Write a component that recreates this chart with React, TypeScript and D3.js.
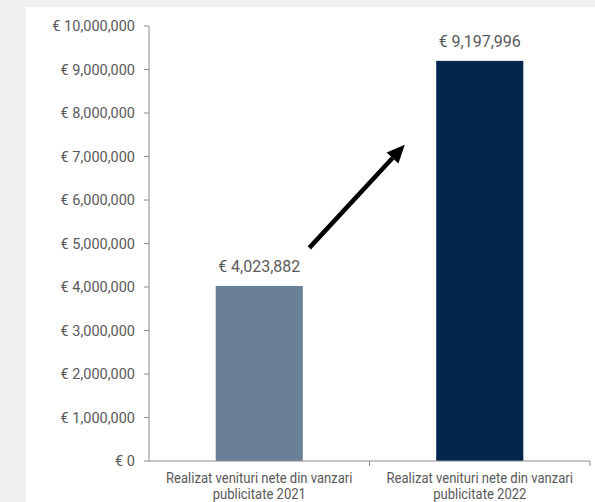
import React from 'react';
import * as d3 from 'd3';

const categories = [
  ['Realizat venituri nete din vanzari', 'publicitate 2021'],
  ['Realizat venituri nete din vanzari', 'publicitate 2022'],
];
const values = [4023882, 9197996];
const barColors = ['#6a8099', '#03264d'];
const yTicks = [0, 1e6, 2e6, 3e6, 4e6, 5e6, 6e6, 7e6, 8e6, 9e6, 1e7];
// arrow annotation, in data units (value axis)
const arrowFromValue = 4.9e6;
const arrowToValue = 7.27e6;

const W = 595;
const H = 502;

const App = () => {
  const margin = { top: 26, right: 5, bottom: 41, left: 149 };
  const x = d3.scaleBand()
    .domain(['0', '1'])
    .range([margin.left, W - margin.right])
    .paddingInner(0)
    .paddingOuter(0);
  const y = d3.scaleLinear().domain([0, 1e7]).range([H - margin.bottom, margin.top]);
  const bw = x.bandwidth() * 0.395;
  const fmt = (v: number) => '€ ' + d3.format(',')(v);
  const axisColor = '#8c8c8c';
  const textColor = '#595959';

  const ax1 = x('0')! + x.bandwidth() * 0.727;
  const ax2 = x('1')! + x.bandwidth() * 0.16;
  const ay1 = y(arrowFromValue);
  const ay2 = y(arrowToValue);
  const ang = Math.atan2(ay2 - ay1, ax2 - ax1);
  const headLen = 18;
  const headW = 8;
  const bx = ax2 - headLen * Math.cos(ang);
  const by = ay2 - headLen * Math.sin(ang);
  const px = -Math.sin(ang);
  const py = Math.cos(ang);

  return (
    <div style={{ position: 'absolute', left: 0, top: 0 }}>
      <svg width={W} height={H} style={{ display: 'block', fontFamily: 'Roboto, sans-serif' }}>
        <rect x={0} y={0} width={W} height={H} fill="#eef0f2" />
        <rect x={26} y={7} width={W - 26} height={H - 7} fill="#ffffff" />

        {values.map((v, i) => {
          const cx = x(String(i))! + x.bandwidth() / 2;
          return (
            <g key={i}>
              <rect x={cx - bw / 2} y={y(v)} width={bw} height={y(0) - y(v)} fill={barColors[i]} />
              <text x={cx} y={y(v) - 14} textAnchor="middle" fontSize={16} fill={textColor}>
                {fmt(v)}
              </text>
            </g>
          );
        })}

        {/* y axis */}
        <line x1={margin.left} x2={margin.left} y1={y(1e7)} y2={y(0)} stroke={axisColor} strokeWidth={1} />
        {yTicks.map((t) => (
          <g key={t}>
            <line x1={margin.left - 5} x2={margin.left} y1={y(t)} y2={y(t)} stroke={axisColor} />
            <text x={margin.left - 14} y={y(t)} dy="0.35em" textAnchor="end" fontSize={14.5} fill={textColor}>
              {fmt(t)}
            </text>
          </g>
        ))}

        {/* x axis */}
        <line x1={margin.left} x2={W - margin.right} y1={y(0)} y2={y(0)} stroke={axisColor} />
        {[1, 2].map((k) => {
          const xx = margin.left + x.bandwidth() * k;
          return <line key={k} x1={xx} x2={xx} y1={y(0)} y2={y(0) + 5} stroke={axisColor} />;
        })}
        {categories.map((lines, i) => {
          const cx = x(String(i))! + x.bandwidth() / 2;
          return (
            <text key={i} transform={`translate(${cx},0) scale(0.9,1)`} textAnchor="middle" fontSize={14.5} fill={textColor}>
              {lines.map((l, j) => (
                <tspan key={j} x={0} y={y(0) + 22 + j * 16}>{l}</tspan>
              ))}
            </text>
          );
        })}

        {/* arrow */}
        <line x1={ax1} y1={ay1} x2={bx} y2={by} stroke="#000" strokeWidth={4.5} />
        <polygon
          points={`${ax2},${ay2} ${bx + px * headW},${by + py * headW} ${bx - px * headW},${by - py * headW}`}
          fill="#000"
        />
      </svg>
    </div>
  );
};

export default App;
